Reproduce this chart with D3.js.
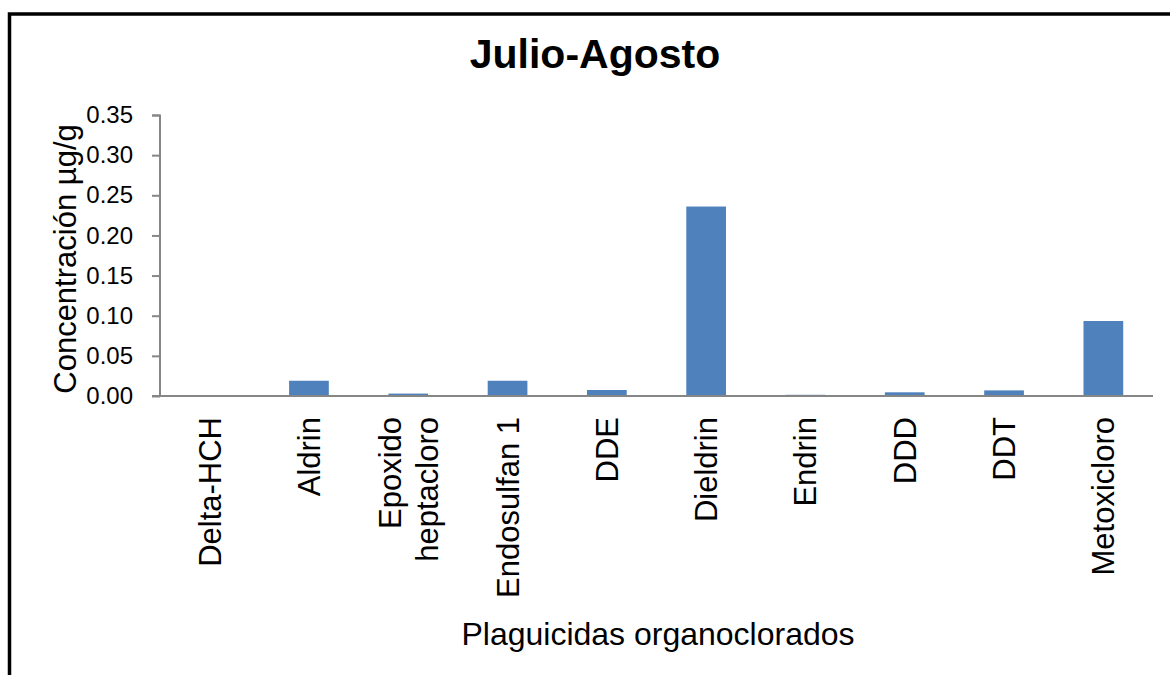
<!DOCTYPE html>
<html><head><meta charset="utf-8">
<script src="https://cdn.jsdelivr.net/npm/d3@7/dist/d3.min.js"></script>
<style>body{margin:0;background:#fff}svg{display:block}text{font-family:"Liberation Sans",Arial,sans-serif}</style>
</head><body>
<svg id="c" width="1171" height="675"></svg>
<script>
const categories = ["Delta-HCH","Aldrin","Epoxido heptacloro","Endosulfan 1","DDE","Dieldrin","Endrin","DDD","DDT","Metoxicloro"];
const categoryLines = [["Delta-HCH"],["Aldrin"],["Epoxido","heptacloro"],["Endosulfan 1"],["DDE"],["Dieldrin"],["Endrin"],["DDD"],["DDT"],["Metoxicloro"]];
const values = [0, 0.019, 0.003, 0.019, 0.0075, 0.236, 0.0015, 0.0046, 0.007, 0.0934];
const yTicks = [0, 0.05, 0.10, 0.15, 0.20, 0.25, 0.30, 0.35];
const title = "Julio-Agosto";
const yTitle = "Concentración µg/g";
const xTitle = "Plaguicidas organoclorados";

const svg = d3.select("#c");
// frame
svg.append("path").attr("d","M9.5,700 L9.5,14 L1170,14").attr("fill","none").attr("stroke","#000").attr("stroke-width",3.5);

const x = d3.scaleBand().domain(categories).range([160,1153]).padding(0);
const y = d3.scaleLinear().domain([0,0.35]).range([396,115]);

// bars
svg.append("g").selectAll("rect").data(values).join("rect")
  .attr("x",(d,i)=>x(categories[i])+x.bandwidth()*0.3)
  .attr("width",x.bandwidth()*0.4)
  .attr("y",d=>y(d))
  .attr("height",d=>y(0)-y(d))
  .attr("fill","#4F81BD");

// y axis
const ya = svg.append("g").attr("transform","translate(160,0)")
  .call(d3.axisLeft(y).tickValues(yTicks).tickFormat(d3.format(".2f")).tickSize(8).tickPadding(19));
ya.select(".domain").attr("stroke","#868686").attr("stroke-width",2).attr("d","M-8,115.5H0V396");
ya.selectAll(".tick line").attr("stroke","#868686").attr("stroke-width",2);
ya.selectAll(".tick text").attr("font-size",24).attr("fill","#000").attr("font-family","Liberation Sans, Arial, sans-serif");

// x axis line
svg.append("line").attr("x1",152).attr("x2",1153).attr("y1",y(0)).attr("y2",y(0))
  .attr("stroke","#868686").attr("stroke-width",2);

// x labels
const lh = 37;
categoryLines.forEach((lines,i)=>{
  const cx = x(categories[i]) + x.bandwidth()/2;
  const t = svg.append("text")
    .attr("transform",`translate(${cx},417) rotate(-90)`)
    .attr("text-anchor","end").attr("font-size",31).attr("fill","#000");
  lines.forEach((l,k)=>{
    t.append("tspan").attr("x",0)
     .attr("y", (k - (lines.length-1)/2)*lh + 11)
     .text(l);
  });
});

// titles
svg.append("text").attr("x",595).attr("y",68).attr("text-anchor","middle")
  .attr("font-size",41).attr("font-weight","bold").text(title);
svg.append("text").attr("transform","translate(76,259) rotate(-90)").attr("text-anchor","middle")
  .attr("font-size",31).text(yTitle);
svg.append("text").attr("x",658).attr("y",645).attr("text-anchor","middle")
  .attr("font-size",32).text(xTitle);
</script>
</body></html>
